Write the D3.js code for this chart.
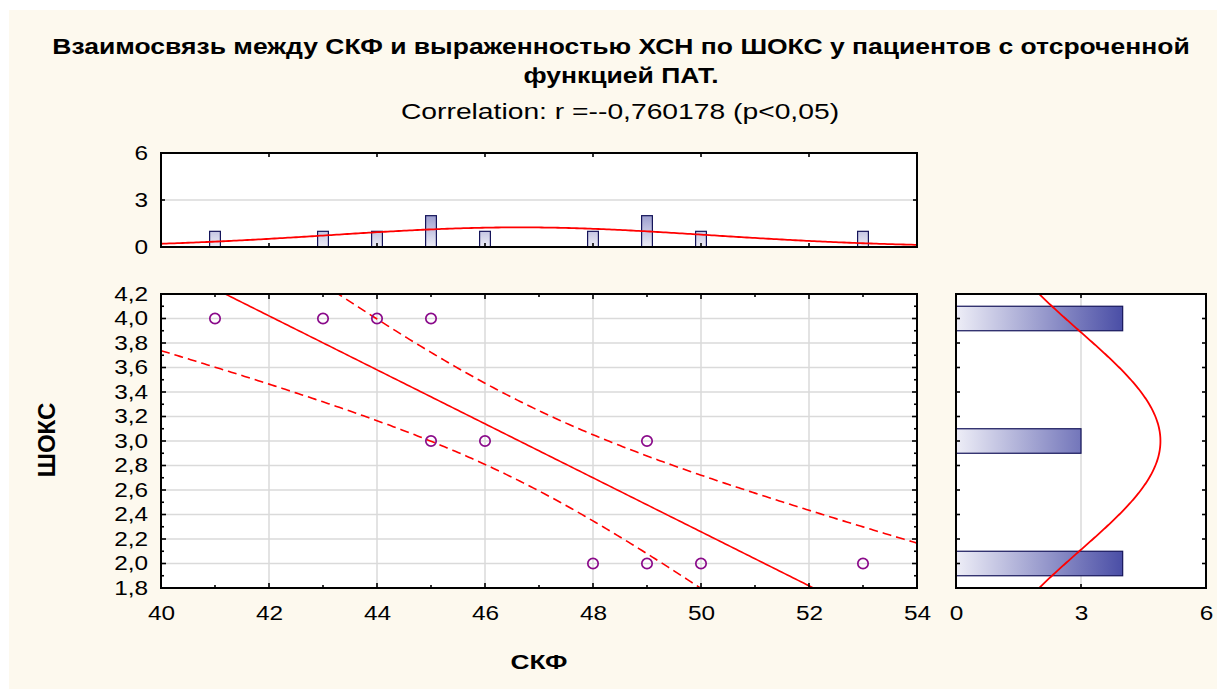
<!DOCTYPE html>
<html>
<head>
<meta charset="utf-8">
<script src="https://cdn.jsdelivr.net/npm/d3@7"></script>
<style>
  body { margin: 0; background: #fff; }
  svg text { font-family: "Liberation Sans", Arial, sans-serif; fill: #000; }
</style>
</head>
<body>
<svg id="chart" width="1217" height="689"></svg>
<script>
// patients: СКФ and ШОКС score
var skf   = [41, 43, 44, 45, 45, 46, 48, 49, 49, 50, 53];
var shoks = [4, 4, 4, 4, 3, 3, 2, 3, 2, 2, 2];

var titleLines = ["Взаимосвязь между СКФ и выраженностью ХСН по ШОКС у пациентов с отсроченной",
                  "функцией ПАТ."];
var subTitle = "Correlation: r =--0,760178 (p<0,05)";
var xName = "СКФ";
var yName = "ШОКС";

var xTicks = [40, 42, 44, 46, 48, 50, 52, 54];
var yTicks = [1.8, 2.0, 2.2, 2.4, 2.6, 2.8, 3.0, 3.2, 3.4, 3.6, 3.8, 4.0, 4.2];
var countTicks = [0, 3, 6];

var STRETCH = 1.25;   // text is drawn a bit wide, like the original export
var red = "#ff0000";

var svg = d3.select("#chart");

svg.append("rect")
    .attr("x", 9).attr("y", 10)
    .attr("width", 1208).attr("height", 679)
    .attr("fill", "#fdf9ee");

//scales for the scatter and both marginal histograms
var x = d3.scaleLinear().domain([40, 54]).range([161, 917]);
var y = d3.scaleLinear().domain([1.8, 4.2]).range([588, 294]);
var hy = d3.scaleLinear().domain([0, 6]).range([247, 153]);
var hx = d3.scaleLinear().domain([0, 6]).range([956, 1206]);

function wideText(g, tx, ty, str, size, weight, anchor) {
    return g.append("text")
        .attr("transform", "translate(" + tx + "," + ty + ") scale(" + STRETCH + ",1)")
        .attr("text-anchor", anchor || "middle")
        .style("font-size", size + "px")
        .style("font-weight", weight || "normal")
        .text(str);
}

function comma(d) { return d3.format(".1f")(d).replace(".", ","); }

// titles
wideText(svg, 621, 54, titleLines[0], 21.2, "bold");
wideText(svg, 621, 83, titleLines[1], 21.2, "bold");
wideText(svg, 620, 119, subTitle, 22.6);
wideText(svg, 539, 669, xName, 21, "bold");
svg.append("text")
    .attr("transform", "translate(55,440) rotate(-90)")
    .attr("text-anchor", "middle")
    .style("font-size", "24px")
    .style("font-weight", "bold")
    .text(yName);

// gradients for the histogram bars (light at 0, dark at 4)
var defs = svg.append("defs");
var gTop = defs.append("linearGradient").attr("id", "gradTop")
    .attr("gradientUnits", "userSpaceOnUse")
    .attr("x1", 0).attr("x2", 0).attr("y1", hy(0)).attr("y2", hy(4));
var gSide = defs.append("linearGradient").attr("id", "gradSide")
    .attr("gradientUnits", "userSpaceOnUse")
    .attr("x1", hx(0)).attr("x2", hx(4)).attr("y1", 0).attr("y2", 0);
[gTop, gSide].forEach(function(g){
    g.append("stop").attr("offset", 0).attr("stop-color", "#eeeef7");
    g.append("stop").attr("offset", 1).attr("stop-color", "#4a4ea6");
});

function clip(id, x0, y0, x1, y1) {
    defs.append("clipPath").attr("id", id).append("rect")
        .attr("x", x0).attr("y", y0).attr("width", x1 - x0).attr("height", y1 - y0);
}
clip("clipMain", x(40), y(4.2), x(54), y(1.8));
clip("clipTop", x(40), hy(6), x(54), hy(0));
clip("clipSide", hx(0), y(4.2), hx(6), y(1.8));

// white plot areas
[[x(40), y(4.2), x(54), y(1.8)], [x(40), hy(6), x(54), hy(0)], [hx(0), y(4.2), hx(6), y(1.8)]]
    .forEach(function(b){
        svg.append("rect").attr("x", b[0]).attr("y", b[1])
            .attr("width", b[2] - b[0]).attr("height", b[3] - b[1]).attr("fill", "#fff");
    });

var gridColor = "#dadada";

//gridlines
var grid = svg.append("g").attr("stroke", gridColor).attr("stroke-width", 1.5);
grid.selectAll(".vx").data(xTicks.slice(1, -1)).enter().append("line")
    .attr("x1", function(d){ return x(d); }).attr("x2", function(d){ return x(d); })
    .attr("y1", y(4.2)).attr("y2", y(1.8));
grid.selectAll(".hy").data(yTicks.slice(1, -1)).enter().append("line")
    .attr("x1", x(40)).attr("x2", x(54))
    .attr("y1", function(d){ return y(d); }).attr("y2", function(d){ return y(d); });
grid.append("line").attr("x1", x(40)).attr("x2", x(54)).attr("y1", hy(3)).attr("y2", hy(3));
grid.append("line").attr("x1", hx(3)).attr("x2", hx(3)).attr("y1", y(4.2)).attr("y2", y(1.8));

// ---------- statistics ----------
var n = skf.length;
var mx = d3.mean(skf), my = d3.mean(shoks);
var sdx = d3.deviation(skf), sdy = d3.deviation(shoks);
var sxx = d3.sum(skf, function(v){ return (v - mx) * (v - mx); });
var sxy = d3.sum(skf, function(v, i){ return (v - mx) * (shoks[i] - my); });
var slope = sxy / sxx;
var icept = my - slope * mx;
var sse = d3.sum(skf, function(v, i){ var r = shoks[i] - (icept + slope * v); return r * r; });
var se = Math.sqrt(sse / (n - 2));
var tCrit = 2.262; // t(0.975, df = 9)

function band(sign) {
    return function(v) {
        var h = tCrit * se * Math.sqrt(1 / n + (v - mx) * (v - mx) / sxx);
        return icept + slope * v + sign * h;
    };
}
function normal(m, s, count) {
    return function(v) {
        var z = (v - m) / s;
        return count / (s * Math.sqrt(2 * Math.PI)) * Math.exp(-0.5 * z * z);
    };
}

var xs = d3.range(40, 54.001, 0.05);
var ys = d3.range(1.8, 4.2001, 0.01);

// ---------- scatter ----------
var main = svg.append("g").attr("clip-path", "url(#clipMain)");
var lineXY = d3.line().x(function(d){ return x(d[0]); }).y(function(d){ return y(d[1]); });

main.append("path")
    .attr("d", lineXY(xs.map(function(v){ return [v, icept + slope * v]; })))
    .attr("fill", "none").attr("stroke", red).attr("stroke-width", 1.6);
[-1, 1].forEach(function(s){
    var f = band(s);
    main.append("path")
        .attr("d", lineXY(xs.map(function(v){ return [v, f(v)]; })))
        .attr("fill", "none").attr("stroke", red).attr("stroke-width", 1.6)
        .attr("stroke-dasharray", "9,5");
});

svg.append("g").selectAll("circle")
    .data(skf.map(function(v, i){ return [v, shoks[i]]; }))
    .enter().append("circle")
    .attr("cx", function(d){ return x(d[0]); })
    .attr("cy", function(d){ return y(d[1]); })
    .attr("r", 5.2)
    .attr("fill", "none")
    .attr("stroke", "#8a0a8a")
    .attr("stroke-width", 1.7);

// ---------- top histogram (СКФ) ----------
var skfCounts = Array.from(d3.rollup(skf, function(v){ return v.length; }, function(d){ return d; }));
var topHist = svg.append("g");
var bw = x(40.2) - x(40);
topHist.selectAll("rect").data(skfCounts).enter().append("rect")
    .attr("x", function(d){ return x(d[0]) - bw / 2; })
    .attr("y", function(d){ return hy(d[1]); })
    .attr("width", bw)
    .attr("height", function(d){ return hy(0) - hy(d[1]); })
    .attr("fill", "url(#gradTop)")
    .attr("stroke", "#15155a").attr("stroke-width", 1.2);

var fTop = normal(mx, sdx, n);
svg.append("path").attr("clip-path", "url(#clipTop)")
    .attr("d", d3.line().x(function(v){ return x(v); }).y(function(v){ return hy(fTop(v)); })(xs))
    .attr("fill", "none").attr("stroke", red).attr("stroke-width", 1.8);

// ---------- side histogram (ШОКС) ----------
var shCounts = Array.from(d3.rollup(shoks, function(v){ return v.length; }, function(d){ return d; }));
var bh = y(1.8) - y(2.0);
svg.append("g").selectAll("rect").data(shCounts).enter().append("rect")
    .attr("x", hx(0))
    .attr("y", function(d){ return y(d[0]) - bh / 2; })
    .attr("width", function(d){ return hx(d[1]) - hx(0); })
    .attr("height", bh)
    .attr("fill", "url(#gradSide)")
    .attr("stroke", "#15155a").attr("stroke-width", 1.2);

var fSide = normal(my, sdy, n);
svg.append("path").attr("clip-path", "url(#clipSide)")
    .attr("d", d3.line().x(function(v){ return hx(fSide(v)); }).y(function(v){ return y(v); })(ys))
    .attr("fill", "none").attr("stroke", red).attr("stroke-width", 1.8);

// ---------- axes ----------
function widen(g) {
    g.selectAll(".tick text").each(function(){
        var t = d3.select(this);
        var tx = +t.attr("x") || 0;
        t.attr("x", tx / STRETCH).attr("transform", "scale(" + STRETCH + ",1)");
    });
}
function plain(g) { g.select(".domain").remove(); g.selectAll("line").remove(); }
function label(g, size) { g.selectAll("text").style("font-size", size + "px"); }

var tickFont = 19.5;

// scatter axes
var ax = svg.append("g").attr("transform", "translate(0," + y(1.8) + ")")
    .call(d3.axisBottom(x).tickValues(xTicks).tickFormat(d3.format("d")).tickSize(0).tickPadding(18));
plain(ax); label(ax, tickFont); widen(ax);

var ay = svg.append("g").attr("transform", "translate(" + x(40) + ",0)")
    .call(d3.axisLeft(y).tickValues(yTicks).tickFormat(comma).tickSize(0).tickPadding(13));
plain(ay); label(ay, tickFont); widen(ay);

// top histogram axis labels
var ah = svg.append("g").attr("transform", "translate(" + x(40) + ",0)")
    .call(d3.axisLeft(hy).tickValues(countTicks).tickFormat(d3.format("d")).tickSize(0).tickPadding(13));
plain(ah); label(ah, tickFont); widen(ah);

// side histogram axis labels
var as = svg.append("g").attr("transform", "translate(0," + y(1.8) + ")")
    .call(d3.axisBottom(hx).tickValues(countTicks).tickFormat(d3.format("d")).tickSize(0).tickPadding(18));
plain(as); label(as, tickFont); widen(as);

// inward tick marks on all frames
var ticks = svg.append("g").attr("stroke", "#000").attr("stroke-width", 1.6);
function tickSet(vals, fn) {
    vals.forEach(function(v){ var c = fn(v); ticks.append("line").attr("x1", c[0]).attr("y1", c[1]).attr("x2", c[2]).attr("y2", c[3]); });
}
var minorY = d3.range(18, 43).map(function(k){ return k / 10; });
var unitX = d3.range(41, 54);
tickSet(minorY, function(v){ var L = Math.round(v * 10) % 2 ? 3 : 5; return [x(40), y(v), x(40) + L, y(v)]; });
tickSet(minorY, function(v){ var L = Math.round(v * 10) % 2 ? 3 : 5; return [x(54), y(v), x(54) - L, y(v)]; });
tickSet(unitX, function(v){ var L = v % 2 ? 3 : 5; return [x(v), y(1.8), x(v), y(1.8) - L]; });
tickSet(unitX, function(v){ var L = v % 2 ? 3 : 5; return [x(v), y(4.2), x(v), y(4.2) + L]; });
// top histogram
tickSet(xTicks.slice(1, -1), function(v){ return [x(v), hy(0), x(v), hy(0) - 4]; });
tickSet(xTicks.slice(1, -1), function(v){ return [x(v), hy(6), x(v), hy(6) + 4]; });
tickSet([3], function(v){ return [x(40), hy(v), x(40) + 4, hy(v)]; });
tickSet([3], function(v){ return [x(54), hy(v), x(54) - 4, hy(v)]; });
// side histogram
var stepY = d3.range(9, 22).map(function(k){ return k / 5; });
tickSet(stepY, function(v){ return [hx(0), y(v), hx(0) + 4, y(v)]; });
tickSet(stepY, function(v){ return [hx(6), y(v), hx(6) - 4, y(v)]; });
tickSet([3], function(v){ return [hx(v), y(4.2), hx(v), y(4.2) + 4]; });
tickSet([3], function(v){ return [hx(v), y(1.8), hx(v), y(1.8) - 4]; });

// frames
[[x(40), y(4.2), x(54), y(1.8)], [x(40), hy(6), x(54), hy(0)], [hx(0), y(4.2), hx(6), y(1.8)]]
    .forEach(function(b){
        svg.append("rect").attr("x", b[0]).attr("y", b[1])
            .attr("width", b[2] - b[0]).attr("height", b[3] - b[1])
            .attr("fill", "none").attr("stroke", "#000").attr("stroke-width", 2);
    });
</script>
</body>
</html>
